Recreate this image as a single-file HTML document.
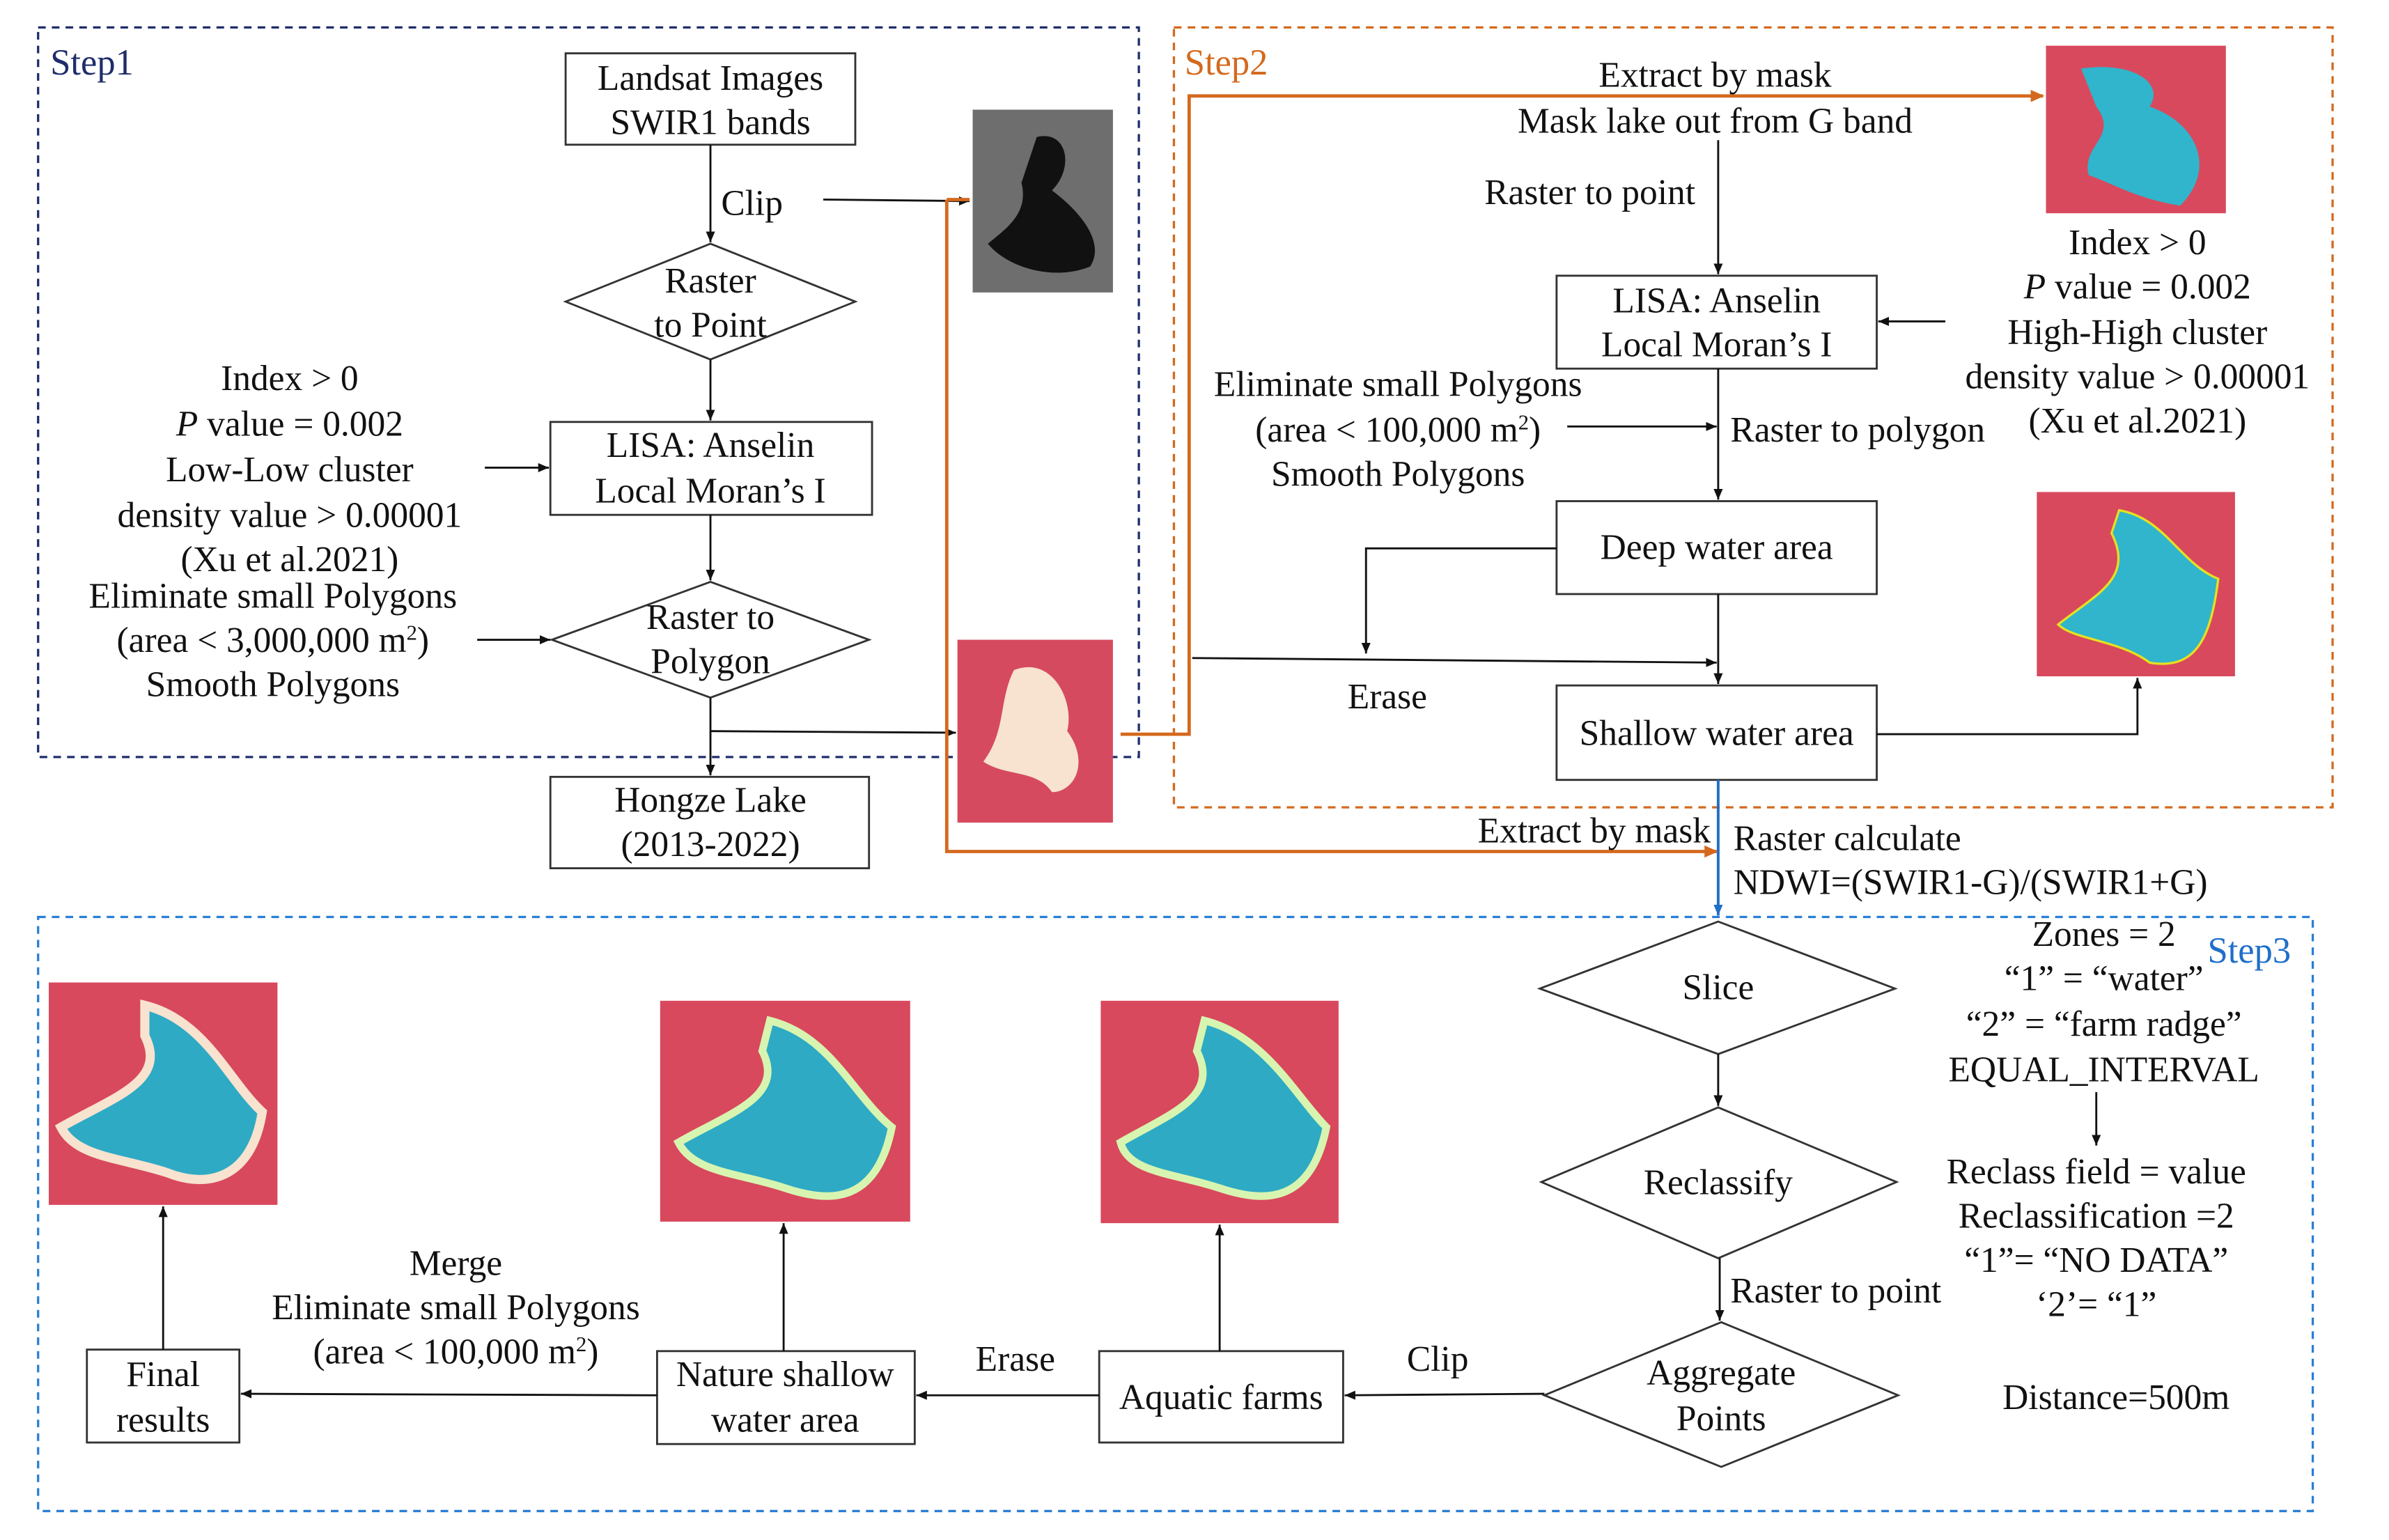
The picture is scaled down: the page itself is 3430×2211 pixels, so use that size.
<!DOCTYPE html>
<html><head><meta charset="utf-8"><style>
html,body{margin:0;padding:0;background:#fff;}
svg{display:block;}
text{font-family:"Liberation Serif",serif;font-size:23.5px;fill:#111;}
</style></head><body>
<svg width="3430" height="2211" viewBox="0 0 1567 1011" preserveAspectRatio="none" xmlns="http://www.w3.org/2000/svg">
<defs>
<marker id="a" markerWidth="8" markerHeight="8" refX="7" refY="4" orient="auto" markerUnits="userSpaceOnUse"><path d="M0,1 L7,4 L0,7 z" fill="#111"/></marker>
<marker id="o" markerWidth="10" markerHeight="10" refX="8" refY="5" orient="auto" markerUnits="userSpaceOnUse"><path d="M0,1 L9,5 L0,9 z" fill="#d4691e"/></marker>
<marker id="b" markerWidth="8" markerHeight="8" refX="7" refY="4" orient="auto" markerUnits="userSpaceOnUse"><path d="M0,1 L7,4 L0,7 z" fill="#1f6fc8"/></marker>
</defs>
<rect x="25" y="18" width="722" height="479" fill="none" stroke="#1f2d6b" stroke-width="1.5" stroke-dasharray="5,4"/>
<rect x="770" y="18" width="760" height="512" fill="none" stroke="#d4691e" stroke-width="1.5" stroke-dasharray="5,4"/>
<rect x="25" y="602" width="1492" height="390" fill="none" stroke="#2a7fd4" stroke-width="1.5" stroke-dasharray="5,4"/>
<text x="33" y="49" style="fill:#1f2d6b;font-size:24px">Step1</text>
<text x="777" y="49" style="fill:#d4691e;font-size:24px">Step2</text>
<text x="1448" y="632" style="fill:#1f6fc8;font-size:24px">Step3</text>

<g>
<rect x="638" y="72" width="92" height="120" fill="#6e6e6e"/>
<path d="M680,90 C700,85 705,110 690,125 C710,140 725,160 715,175 C690,185 660,175 648,160 C660,150 675,140 670,120 Z" fill="#111"/>
<polygon points="628,420 730,420 730,540 628,540" fill="#d64a60"/>
<path d="M665,440 C690,430 705,460 700,480 C715,500 705,520 690,520 C680,505 660,510 645,500 C660,480 655,460 665,440 Z" fill="#f7e3cf"/>
<rect x="1342" y="30" width="118" height="110" fill="#d8495d"/>
<path d="M1365,45 C1400,40 1420,55 1410,70 C1440,80 1455,110 1430,135 C1400,130 1385,120 1370,115 C1365,95 1390,90 1375,70 Z" fill="#30b5cc"/>
<rect x="1336" y="323" width="130" height="121" fill="#d8495d"/>
<path d="M1390,335 C1420,340 1430,370 1455,380 C1450,420 1440,440 1410,435 C1390,420 1360,420 1350,410 C1375,390 1400,380 1385,350 Z" fill="#30b5cc" stroke="#e6e020" stroke-width="1.5"/>
<rect x="722" y="657" width="156" height="146" fill="#d8495d"/>
<path d="M790,670 C830,680 850,720 870,740 C860,790 830,790 800,780 C770,770 740,770 735,750 C770,730 800,720 785,690 Z" fill="#2eaac4" stroke="#d7f5b0" stroke-width="5"/>
<rect x="433" y="657" width="164" height="145" fill="#d8495d"/>
<path d="M505,670 C545,680 560,720 585,740 C575,790 545,790 515,780 C485,770 455,770 445,750 C480,730 515,720 500,690 Z" fill="#2eaac4" stroke="#d7f5b0" stroke-width="5"/>
<rect x="32" y="645" width="150" height="146" fill="#d8495d"/>
<path d="M95,660 C135,670 150,710 172,730 C165,775 135,780 110,770 C80,760 50,760 40,740 C75,720 110,710 95,680 Z" fill="#2eaac4" stroke="#f7e3cf" stroke-width="6"/>
</g>

<g fill="#fff" stroke="#333" stroke-width="1.3">
<rect x="371" y="35" width="190" height="60"/>
<polygon points="371,198 466,160 561,198 466,236"/>
<rect x="361" y="277" width="211" height="61"/>
<polygon points="362,420 466,382 570,420 466,458"/>
<rect x="361" y="510" width="209" height="60"/>
<rect x="1021" y="181" width="210" height="61"/>
<rect x="1021" y="329" width="210" height="61"/>
<rect x="1021" y="450" width="210" height="62"/>
<polygon points="1010,649 1127,605 1243,649 1127,692"/>
<polygon points="1011,776 1127,727 1244,776 1127,826"/>
<polygon points="1013,916 1129,868 1245,916 1129,963"/>
<rect x="721" y="887" width="160" height="60"/>
<rect x="431" y="887" width="169" height="61"/>
<rect x="57" y="886" width="100" height="61"/>
</g>

<g stroke="#111" stroke-width="1.3" fill="none">
<line x1="466" y1="95" x2="466" y2="159" marker-end="url(#a)"/>
<line x1="540" y1="131" x2="636" y2="132" marker-end="url(#a)"/>
<line x1="466" y1="236" x2="466" y2="276" marker-end="url(#a)"/>
<line x1="466" y1="338" x2="466" y2="381" marker-end="url(#a)"/>
<line x1="318" y1="307" x2="360" y2="307" marker-end="url(#a)"/>
<line x1="313" y1="420" x2="361" y2="420" marker-end="url(#a)"/>
<line x1="466" y1="458" x2="466" y2="509" marker-end="url(#a)"/>
<line x1="466" y1="480" x2="627" y2="481" marker-end="url(#a)"/>
<line x1="1127" y1="92" x2="1127" y2="180" marker-end="url(#a)"/>
<line x1="1276" y1="211" x2="1232" y2="211" marker-end="url(#a)"/>
<line x1="1127" y1="242" x2="1127" y2="328" marker-end="url(#a)"/>
<line x1="1028" y1="280" x2="1126" y2="280" marker-end="url(#a)"/>
<polyline points="1021,360 896,360 896,429" marker-end="url(#a)"/>
<line x1="1127" y1="390" x2="1127" y2="449" marker-end="url(#a)"/>
<line x1="782" y1="432" x2="1126" y2="435" marker-end="url(#a)"/>
<polyline points="1231,482 1402,482 1402,445" marker-end="url(#a)"/>
<line x1="1127" y1="692" x2="1127" y2="726" marker-end="url(#a)"/>
<line x1="1128" y1="826" x2="1128" y2="867" marker-end="url(#a)"/>
<line x1="1375" y1="717" x2="1375" y2="752" marker-end="url(#a)"/>
<line x1="1013" y1="915" x2="882" y2="916" marker-end="url(#a)"/>
<line x1="800" y1="887" x2="800" y2="804" marker-end="url(#a)"/>
<line x1="721" y1="916" x2="601" y2="916" marker-end="url(#a)"/>
<line x1="514" y1="887" x2="514" y2="803" marker-end="url(#a)"/>
<line x1="431" y1="916" x2="158" y2="915" marker-end="url(#a)"/>
<line x1="107" y1="886" x2="107" y2="792" marker-end="url(#a)"/>
</g>
<g stroke="#d4691e" stroke-width="2.2" fill="none">
<polyline points="735,482 780,482 780,63 1340,63" marker-end="url(#o)"/>
<polyline points="621,131 636,131"/>
<polyline points="621,131 621,559 1126,559" marker-end="url(#o)"/>
</g>
<line x1="1127" y1="512" x2="1127" y2="601" stroke="#1f6fc8" stroke-width="1.8" marker-end="url(#b)"/>

<g text-anchor="middle">
<text x="466" y="59">Landsat Images</text>
<text x="466" y="88">SWIR1 bands</text>
<text x="466" y="192">Raster</text>
<text x="466" y="221">to Point</text>
<text x="466" y="300">LISA:  Anselin</text>
<text x="466" y="330">Local Moran’s I</text>
<text x="466" y="413">Raster to</text>
<text x="466" y="442">Polygon</text>
<text x="466" y="533">Hongze Lake</text>
<text x="466" y="562">(2013-2022)</text>
<text x="190" y="256">Index &gt; 0</text>
<text x="190" y="286"><tspan font-style="italic">P</tspan> value = 0.002</text>
<text x="190" y="316">Low-Low  cluster</text>
<text x="190" y="346">density value &gt; 0.00001</text>
<text x="190" y="375">(Xu et al.2021)</text>
<text x="179" y="399">Eliminate small Polygons</text>
<text x="179" y="428">(area &lt; 3,000,000 m<tspan dy="-8" font-size="14">2</tspan><tspan dy="8">)</tspan></text>
<text x="179" y="457">Smooth Polygons</text>

<text x="1125" y="57">Extract by mask</text>
<text x="1125" y="87">Mask lake out from G band</text>
<text x="1126" y="205">LISA:  Anselin</text>
<text x="1126" y="234">Local Moran’s I</text>
<text x="1402" y="167">Index &gt; 0</text>
<text x="1402" y="196"><tspan font-style="italic">P</tspan> value = 0.002</text>
<text x="1402" y="226">High-High  cluster</text>
<text x="1402" y="255">density value &gt; 0.00001</text>
<text x="1402" y="284">(Xu et al.2021)</text>
<text x="917" y="260">Eliminate small Polygons</text>
<text x="917" y="290">(area &lt; 100,000 m<tspan dy="-8" font-size="14">2</tspan><tspan dy="8">)</tspan></text>
<text x="917" y="319">Smooth Polygons</text>
<text x="1126" y="367">Deep water area</text>
<text x="910" y="465">Erase</text>
<text x="1126" y="489">Shallow water area</text>

<text x="1127" y="656">Slice</text>
<text x="1127" y="784">Reclassify</text>
<text x="1129" y="909">Aggregate</text>
<text x="1129" y="939">Points</text>
<text x="1380" y="621">Zones = 2</text>
<text x="1380" y="650">“1” = “water”</text>
<text x="1380" y="680">“2” = “farm radge”</text>
<text x="1380" y="710">EQUAL_INTERVAL</text>
<text x="1375" y="777">Reclass  field = value</text>
<text x="1375" y="806">Reclassification =2</text>
<text x="1375" y="835">“1”= “NO DATA”</text>
<text x="1375" y="864">‘2’= “1”</text>
<text x="1388" y="925">Distance=500m</text>
<text x="943" y="900">Clip</text>
<text x="801" y="925">Aquatic farms</text>
<text x="666" y="900">Erase</text>
<text x="515" y="910">Nature shallow</text>
<text x="515" y="940">water area</text>
<text x="299" y="837">Merge</text>
<text x="299" y="866">Eliminate small Polygons</text>
<text x="299" y="895">(area &lt; 100,000 m<tspan dy="-8" font-size="14">2</tspan><tspan dy="8">)</tspan></text>
<text x="107" y="910">Final</text>
<text x="107" y="940">results</text>
</g>
<text x="473" y="141">Clip</text>
<text x="1112" y="134" text-anchor="end">Raster to point</text>
<text x="1135" y="290">Raster to polygon</text>
<text x="1122" y="553" text-anchor="end">Extract by mask</text>
<text x="1137" y="558">Raster calculate</text>
<text x="1137" y="587">NDWI=(SWIR1-G)/(SWIR1+G)</text>
<text x="1135" y="855">Raster to point</text>
</svg>
</body></html>
